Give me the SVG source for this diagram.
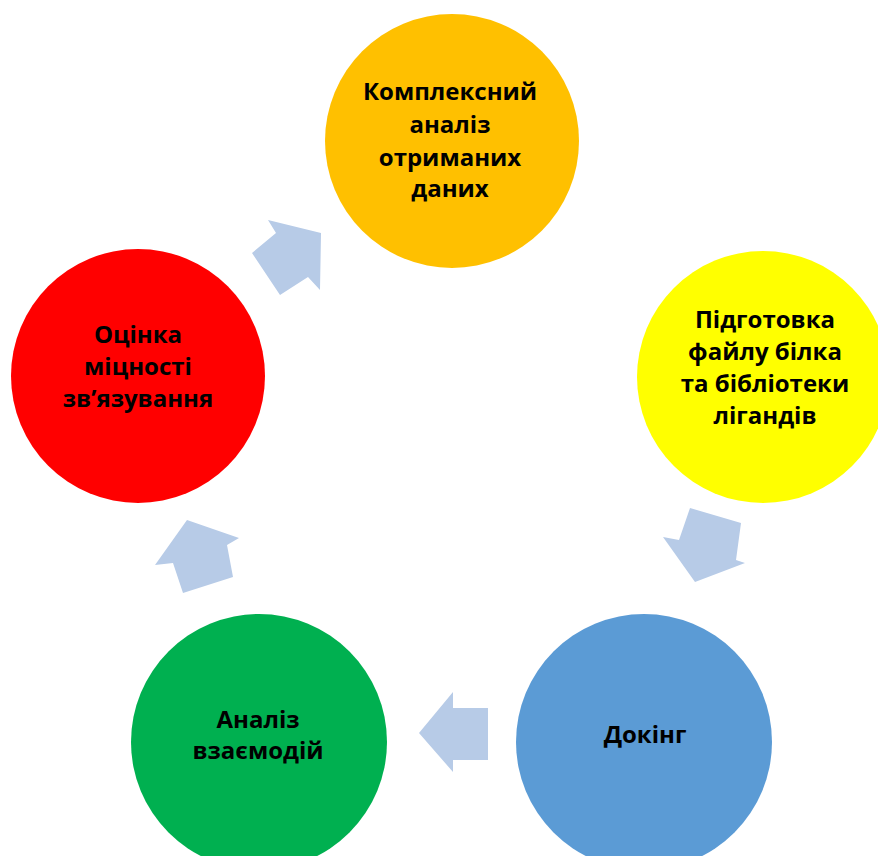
<svg xmlns="http://www.w3.org/2000/svg" width="878" height="856" viewBox="0 0 878 856">
<style>
.lbl{font-family:"Open Sans","Noto Sans","DejaVu Sans",sans-serif;font-weight:bold;font-size:24px;fill:#000;text-anchor:middle}
.arr{fill:#B7CBE7}
</style>
<rect width="878" height="856" fill="#fff"/>
<g id="connectors">
<polygon class="arr" points="252,253 276,233 268,220 321,233 320,290 308,277 280,295"/>
<polygon class="arr" points="690,508 741,523 736,560 745,563 695,582 663,537 679,540"/>
<polygon class="arr" points="419,733 453,692 453,708 488,708 488,760 453,760 453,772"/>
<polygon class="arr" points="187,520 239,538 227,545 233,577 183,593 173,563 155,565"/>
</g>
<g id="node-analysis">
<circle cx="452" cy="141" r="127" fill="#FFC000"/>
<text class="lbl" x="450" y="100">Комплексний</text>
<text class="lbl" x="450" y="133">аналіз</text>
<text class="lbl" x="450" y="166">отриманих</text>
<text class="lbl" x="450" y="197">даних</text>
</g>
<g id="node-prep">
<circle cx="763" cy="377" r="126" fill="#FFFF00"/>
<text class="lbl" x="765" y="328">Підготовка</text>
<text class="lbl" x="765" y="360">файлу білка</text>
<text class="lbl" x="765" y="392">та бібліотеки</text>
<text class="lbl" x="765" y="424">лігандів</text>
</g>
<g id="node-docking">
<circle cx="644" cy="742" r="128" fill="#5B9BD5"/>
<text class="lbl" x="645" y="743">Докінг</text>
</g>
<g id="node-interactions">
<circle cx="259" cy="742" r="128" fill="#00B050"/>
<text class="lbl" x="258" y="728">Аналіз</text>
<text class="lbl" x="258" y="759">взаємодій</text>
</g>
<g id="node-binding">
<circle cx="138" cy="376" r="127" fill="#FF0000"/>
<text class="lbl" x="138" y="343">Оцінка</text>
<text class="lbl" x="138" y="375">міцності</text>
<text class="lbl" x="138" y="407">зв’язування</text>
</g>
</svg>
